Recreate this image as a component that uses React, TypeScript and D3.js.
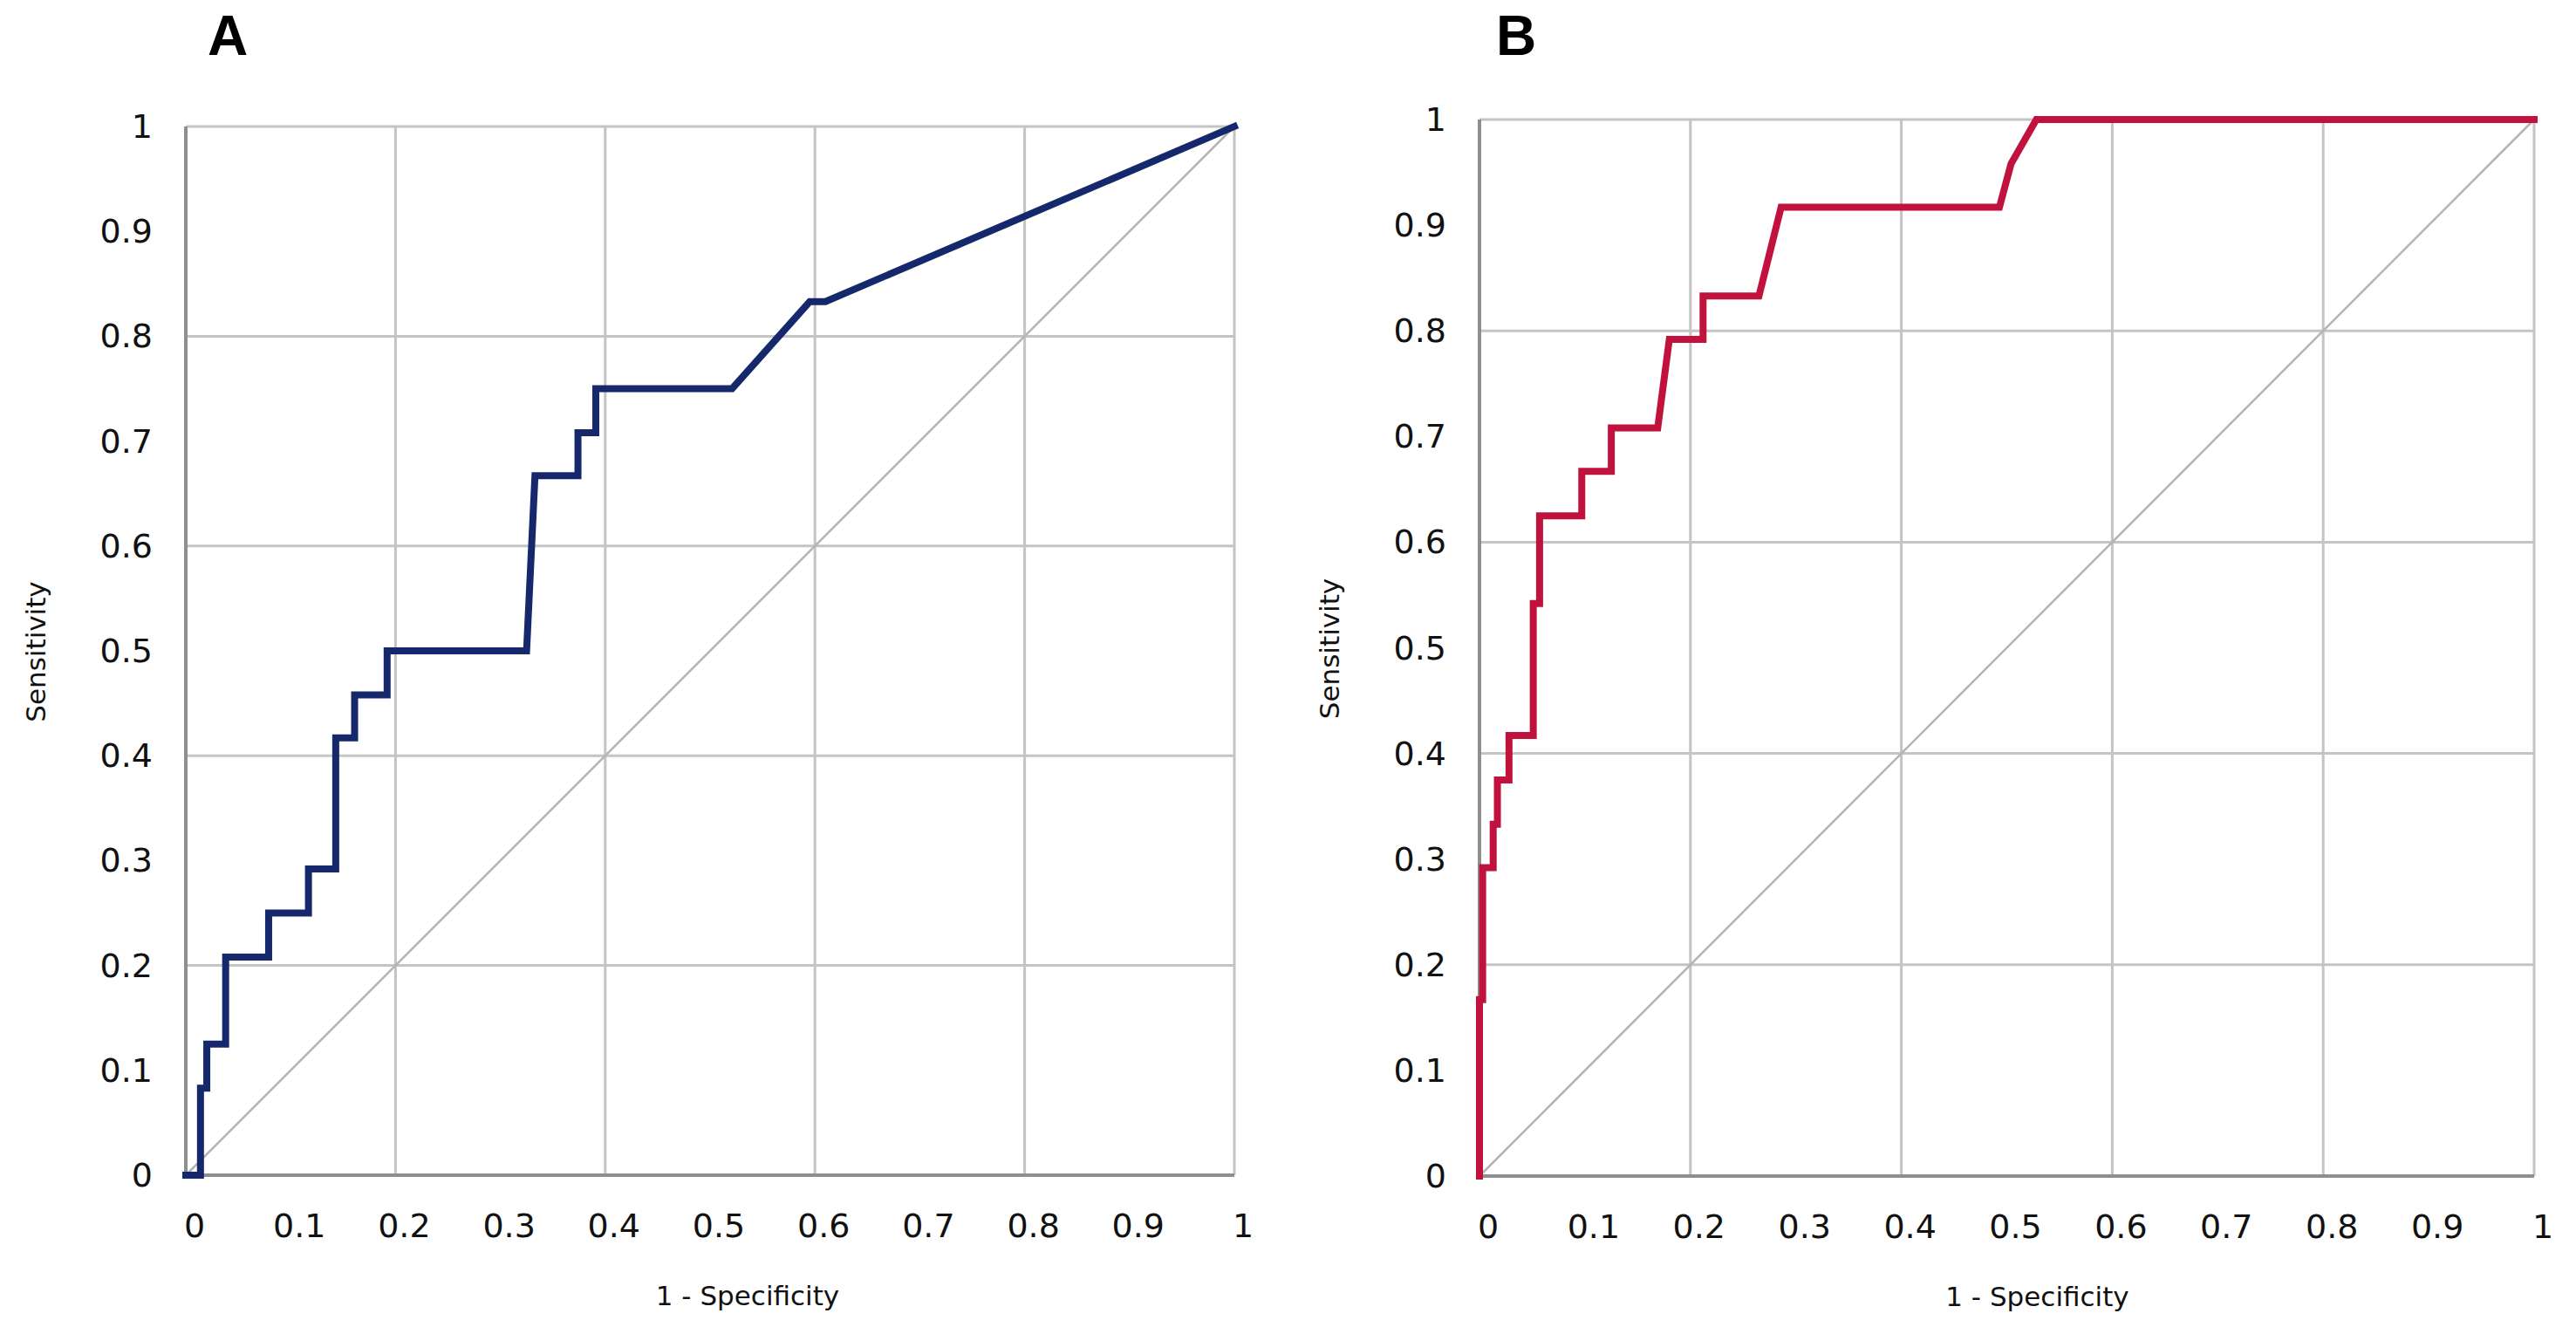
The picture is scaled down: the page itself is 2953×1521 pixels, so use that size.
import React from 'react';
import * as d3 from 'd3';

// tick labels on both axes (every 0.1), grid only every 0.2
const tickValues = [0, 0.1, 0.2, 0.3, 0.4, 0.5, 0.6, 0.7, 0.8, 0.9, 1];
const tickLabels = ['0', '0.1', '0.2', '0.3', '0.4', '0.5', '0.6', '0.7', '0.8', '0.9', '1'];
const gridValues = [0.2, 0.4, 0.6, 0.8, 1];

// panel A ROC curve (1 - specificity, sensitivity)
const fprA = [0, 0.014, 0.014, 0.02, 0.02, 0.038, 0.038, 0.079, 0.079, 0.117, 0.117, 0.143, 0.143, 0.161, 0.161, 0.192, 0.192, 0.325, 0.333, 0.374, 0.374, 0.391, 0.391, 0.521, 0.595, 0.61, 1];
const sensA = [0, 0, 0.083, 0.083, 0.125, 0.125, 0.208, 0.208, 0.25, 0.25, 0.292, 0.292, 0.417, 0.417, 0.458, 0.458, 0.5, 0.5, 0.667, 0.667, 0.708, 0.708, 0.75, 0.75, 0.833, 0.833, 1];

// panel B ROC curve
const fprB = [0, 0, 0.003, 0.003, 0.013, 0.013, 0.017, 0.017, 0.028, 0.028, 0.051, 0.051, 0.057, 0.057, 0.097, 0.097, 0.125, 0.125, 0.169, 0.18, 0.212, 0.212, 0.265, 0.286, 0.493, 0.504, 0.528, 1];
const sensB = [0, 0.167, 0.167, 0.292, 0.292, 0.333, 0.333, 0.375, 0.375, 0.417, 0.417, 0.542, 0.542, 0.625, 0.625, 0.667, 0.667, 0.708, 0.708, 0.792, 0.792, 0.833, 0.833, 0.917, 0.917, 0.958, 1, 1];

const W = 2953;
const H = 1521;
const FONT = '"DejaVu Sans", Verdana, sans-serif';

interface PanelProps {
  label: string;
  fpr: number[];
  sens: number[];
  color: string;
  left: number;
  right: number;
  top: number;
  bottom: number;
  labelDx: number;
  titleDx: number;
}

const RocPanel: React.FC<PanelProps> = ({ label, fpr, sens, color, left, right, top, bottom, labelDx, titleDx }) => {
  const x = d3.scaleLinear().domain([0, 1]).range([left, right]);
  const y = d3.scaleLinear().domain([0, 1]).range([bottom, top]);
  const pts: [number, number][] = fpr.map((f, i) => [f, sens[i]]);
  const line = d3.line<[number, number]>().x(d => x(d[0])).y(d => y(d[1]));

  return (
    <g>
      {/* grid */}
      {gridValues.map(v => (
        <line key={'gx' + v} x1={x(v)} x2={x(v)} y1={y(0)} y2={y(1)} stroke="#c4c4c4" strokeWidth={3} />
      ))}
      {gridValues.map(v => (
        <line key={'gy' + v} x1={x(0)} x2={x(1)} y1={y(v)} y2={y(v)} stroke="#c4c4c4" strokeWidth={3} />
      ))}
      {/* reference diagonal */}
      <line x1={x(0)} y1={y(0)} x2={x(1)} y2={y(1)} stroke="#b4b4b4" strokeWidth={2.5} />
      {/* axes */}
      <line x1={x(0)} x2={x(0)} y1={y(0) + 2} y2={y(1)} stroke="#8f8f8f" strokeWidth={4} />
      <line x1={x(0) - 2} x2={x(1)} y1={y(0)} y2={y(0)} stroke="#8f8f8f" strokeWidth={4} />
      {/* curve */}
      <path d={line(pts) || ''} fill="none" stroke={color} strokeWidth={8} strokeLinejoin="miter" strokeLinecap="square" />
      {/* ticks */}
      {tickValues.map((v, i) => (
        <text key={'ty' + v} x={x(0) - 38} y={y(v)} textAnchor="end" dominantBaseline="central"
          fontFamily={FONT} fontSize={38} fill="#111">{tickLabels[i]}</text>
      ))}
      {tickValues.map((v, i) => (
        <text key={'tx' + v} x={x(v) + 10} y={y(0) + 58} textAnchor="middle" dominantBaseline="central"
          fontFamily={FONT} fontSize={38} fill="#111">{tickLabels[i]}</text>
      ))}
      {/* axis titles */}
      <text transform={`translate(${x(0) - 172},${(y(0) + y(1)) / 2 + 1}) rotate(-90)`} textAnchor="middle"
        dominantBaseline="central" fontFamily={FONT} fontSize={31} fill="#111">Sensitivity</text>
      <text x={(x(0) + x(1)) / 2 + titleDx} y={y(0) + 138} textAnchor="middle" dominantBaseline="central"
        fontFamily={FONT} fontSize={31} fill="#111">1 - Specificity</text>
      {/* panel letter */}
      <text x={x(0) + labelDx} y={63} textAnchor="middle" fontFamily='"Liberation Sans", Arial, sans-serif'
        fontWeight="bold" fontSize={64} fill="#000">{label}</text>
    </g>
  );
};

export default function App() {
  return (
    <svg width={W} height={H} viewBox={`0 0 ${W} ${H}`}
      style={{ position: 'absolute', left: 0, top: 0, background: '#fff' }}>
      <rect x={0} y={0} width={W} height={H} fill="#fff" />
      <RocPanel label="A" fpr={fprA} sens={sensA} color="#16286c"
        left={213} right={1415} top={145} bottom={1347} labelDx={48} titleDx={43} />
      <RocPanel label="B" fpr={fprB} sens={sensB} color="#c0123c"
        left={1696} right={2905} top={137} bottom={1348} labelDx={42} titleDx={35} />
    </svg>
  );
}
